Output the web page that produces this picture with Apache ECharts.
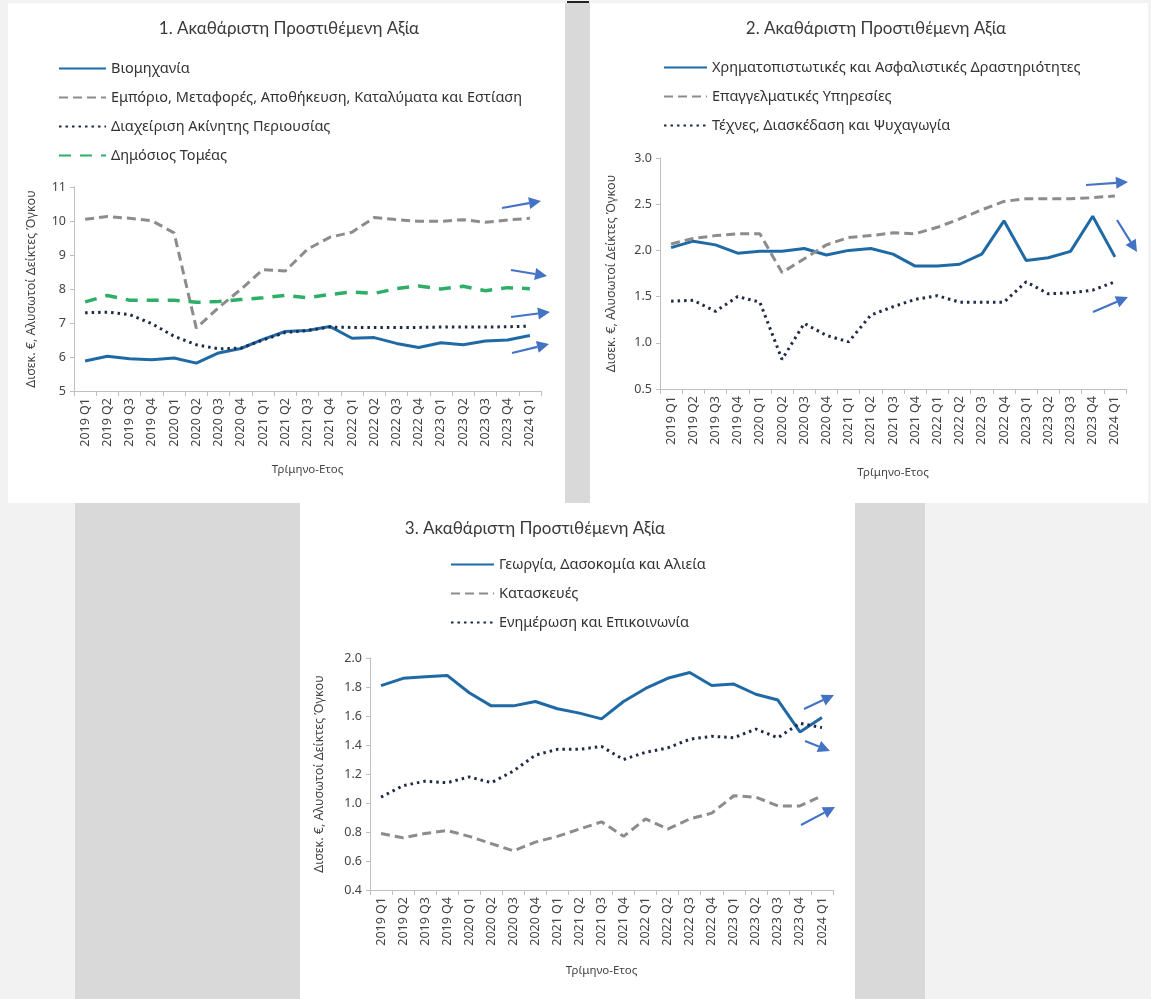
<!DOCTYPE html>
<html>
<head>
<meta charset="utf-8">
<script src="https://cdn.jsdelivr.net/npm/echarts@6/dist/echarts.min.js"></script>
<style>html,body{margin:0;padding:0;background:#fff}#c{width:1151px;height:999px}</style>
</head>
<body>
<div id="c"></div>
<script>
// ---- data ----
const categories = ['2019 Q1','2019 Q2','2019 Q3','2019 Q4','2020 Q1','2020 Q2','2020 Q3','2020 Q4','2021 Q1','2021 Q2','2021 Q3','2021 Q4','2022 Q1','2022 Q2','2022 Q3','2022 Q4','2023 Q1','2023 Q2','2023 Q3','2023 Q4','2024 Q1'];

// Panel 1
const industry   = [5.88,6.02,5.95,5.92,5.97,5.82,6.12,6.25,6.52,6.75,6.78,6.90,6.55,6.57,6.40,6.28,6.42,6.36,6.47,6.50,6.63];
const trade      = [10.05,10.13,10.08,10.01,9.65,6.85,7.45,7.99,8.57,8.53,9.17,9.52,9.67,10.10,10.04,9.99,9.99,10.04,9.96,10.03,10.08];
const realEstate = [7.30,7.32,7.25,6.98,6.61,6.36,6.24,6.26,6.50,6.72,6.78,6.88,6.87,6.87,6.87,6.87,6.88,6.88,6.88,6.89,6.91];
const publicSec  = [7.62,7.81,7.67,7.67,7.67,7.61,7.63,7.69,7.74,7.81,7.74,7.84,7.91,7.87,8.01,8.09,8.00,8.08,7.95,8.04,8.01];

// Panel 2
const finance      = [2.03,2.10,2.06,1.97,1.99,1.99,2.02,1.95,2.00,2.02,1.96,1.83,1.83,1.85,1.96,2.32,1.89,1.92,1.99,2.37,1.93];
const professional = [2.07,2.13,2.16,2.18,2.18,1.76,1.91,2.06,2.14,2.16,2.19,2.18,2.25,2.34,2.44,2.53,2.56,2.56,2.56,2.57,2.59];
const arts         = [1.45,1.46,1.34,1.50,1.44,0.82,1.21,1.08,1.01,1.30,1.39,1.47,1.51,1.44,1.44,1.44,1.66,1.53,1.54,1.57,1.66];

// Panel 3
const agriculture  = [1.81,1.86,1.87,1.88,1.76,1.67,1.67,1.70,1.65,1.62,1.58,1.70,1.79,1.86,1.90,1.81,1.82,1.75,1.71,1.49,1.59];
const construction = [0.79,0.76,0.79,0.81,0.77,0.72,0.67,0.73,0.77,0.82,0.87,0.77,0.89,0.82,0.89,0.93,1.05,1.04,0.98,0.98,1.05];
const infoComm     = [1.04,1.12,1.15,1.14,1.18,1.14,1.22,1.33,1.37,1.37,1.39,1.30,1.35,1.38,1.44,1.46,1.45,1.51,1.45,1.55,1.52];

const titles = ['1. Ακαθάριστη Προστιθέμενη Αξία','2. Ακαθάριστη Προστιθέμενη Αξία','3. Ακαθάριστη Προστιθέμενη Αξία'];
const yName = 'Δισεκ. €, Αλυσωτοί Δείκτες Όγκου';
const xName = 'Τρίμηνο-Ετος';

// ---- styles ----
const FONT = '"Noto Sans", Lato, sans-serif';
const TFONT = 'Lato, "Noto Sans", sans-serif';
const BLUE = '#1f6aa5', GRAY = '#8c8c8c', NAVY = '#1f2a44', GREEN = '#2fae68', ARROW = '#4472c4';
const solid  = {color: BLUE, width: 3, type: 'solid'};
const dashed = {color: GRAY, width: 3, type: [9,5]};
const dotted = {color: NAVY, width: 3, type: [2.5,4]};
const green  = {color: GREEN, width: 3.5, type: [12,9]};

const panels = [
  {grid:{left:74, top:187, width:467, height:204}, min:5, max:11, interval:1, dec:0, nameGap:36, xGap:73,
   title:{x:284, y:15}, legend:{left:58, top:61, w:47},
   series:[['Βιομηχανία',industry,solid],['Εμπόριο, Μεταφορές, Αποθήκευση, Καταλύματα και Εστίαση',trade,dashed],['Διαχείριση Ακίνητης Περιουσίας',realEstate,dotted],['Δημόσιος Τομέας',publicSec,green]]},
  {grid:{left:660, top:158, width:466, height:231}, min:0.5, max:3.0, interval:0.5, dec:1, nameGap:42, xGap:78,
   title:{x:871, y:15}, legend:{left:663, top:60, w:43},
   series:[['Χρηματοπιστωτικές και Ασφαλιστικές Δραστηριότητες',finance,solid],['Επαγγελματικές Υπηρεσίες',professional,dashed],['Τέχνες, Διασκέδαση και Ψυχαγωγία',arts,dotted]]},
  {grid:{left:370, top:658, width:463, height:232}, min:0.4, max:2.0, interval:0.2, dec:1, nameGap:44, xGap:75,
   title:{x:530, y:515}, legend:{left:450, top:557, w:43},
   series:[['Γεωργία, Δασοκομία και Αλιεία',agriculture,solid],['Κατασκευές',construction,dashed],['Ενημέρωση και Επικοινωνία',infoComm,dotted]]}
];

// arrows (decorative annotations): [x1,y1,x2,y2]
const arrows = [
  [502,208,541,201],[511,270,547,276],[511,317,550,312],[512,353,549,344],
  [1086,185,1128,182],[1117,220,1137,252],[1093,312,1128,297],
  [804,709,834,695],[805,741,830,751],[801,825,835,807]
];

const option = {
  animation:false,
  textStyle:{fontFamily:FONT},
  title:[], legend:[], grid:[], xAxis:[], yAxis:[], series:[],
  graphic:[]
};

// backgrounds
const bg = [
  [0,0,1151,999,'#f2f2f2'],
  [8,3,557,500,'#ffffff'],
  [565,3,25,500,'#d9d9d9'],
  [590,3,558,500,'#ffffff'],
  [75,503,225,496,'#d9d9d9'],
  [300,503,555,496,'#ffffff'],
  [855,503,70,496,'#d9d9d9'],
  [567,1,22,2,'#222222']
];
bg.forEach(b=>option.graphic.push({type:'rect',z:-10,silent:true,shape:{x:b[0],y:b[1],width:b[2],height:b[3]},style:{fill:b[4]}}));

panels.forEach((p,i)=>{
  option.title.push({text:titles[i], left:p.title.x, top:p.title.y, textAlign:'center',
    textStyle:{fontFamily:TFONT, fontSize:17, fontWeight:'normal', color:'#3a3a3a'}});
  option.legend.push({orient:'vertical', left:p.legend.left, top:p.legend.top, padding:0,
    itemWidth:p.legend.w, itemHeight:14, itemGap:14,
    itemStyle:{opacity:0},
    data:p.series.map(s=>s[0]), selectedMode:false,
    textStyle:{fontFamily:FONT, fontSize:14.5, color:'#333'}});
  option.grid.push(Object.assign({containLabel:false}, p.grid));
  option.xAxis.push({type:'category', gridIndex:i, data:categories, boundaryGap:true,
    name:xName, nameLocation:'middle', nameGap:p.xGap, nameTextStyle:{fontFamily:FONT, fontSize:11.5, color:'#444'},
    axisLine:{lineStyle:{color:'#bfbfbf'}}, axisTick:{show:true, interval:0, length:5, lineStyle:{color:'#bfbfbf'}},
    axisLabel:{rotate:90, interval:0, fontSize:12.5, color:'#444', fontFamily:FONT, margin:7},
    splitLine:{show:false}});
  option.yAxis.push({type:'value', gridIndex:i, min:p.min, max:p.max, interval:p.interval,
    name:yName, nameLocation:'middle', nameGap:p.nameGap, nameRotate:90, nameTextStyle:{fontFamily:FONT, fontSize:12.5, color:'#444'},
    axisLine:{show:true, lineStyle:{color:'#bfbfbf'}}, axisTick:{show:true, length:4, lineStyle:{color:'#bfbfbf'}},
    axisLabel:{fontSize:12.5, color:'#444', fontFamily:FONT, margin:8, formatter:v=>Number(v).toFixed(p.dec)},
    splitLine:{show:false}});
  p.series.forEach(s=>{
    option.series.push({type:'line', name:s[0], xAxisIndex:i, yAxisIndex:i, data:s[1],
      symbol:'none', showSymbol:false, lineStyle:s[2], itemStyle:{color:s[2].color}, z:3});
  });
});

arrows.forEach(a=>{
  const [x1,y1,x2,y2]=a; const dx=x2-x1, dy=y2-y1, L=Math.hypot(dx,dy), ux=dx/L, uy=dy/L;
  const hl=12, hw=6; const bx=x2-ux*hl, by=y2-uy*hl;
  option.graphic.push({type:'line',z:20,silent:true,shape:{x1:x1,y1:y1,x2:bx,y2:by},style:{stroke:ARROW,lineWidth:2.2}});
  option.graphic.push({type:'polygon',z:20,silent:true,shape:{points:[[x2,y2],[bx-uy*hw,by+ux*hw],[bx+uy*hw,by-ux*hw]]},style:{fill:ARROW}});
});

const chart = echarts.init(document.getElementById('c'), null, {renderer:'canvas'});
chart.setOption(option);
</script>
</body>
</html>
